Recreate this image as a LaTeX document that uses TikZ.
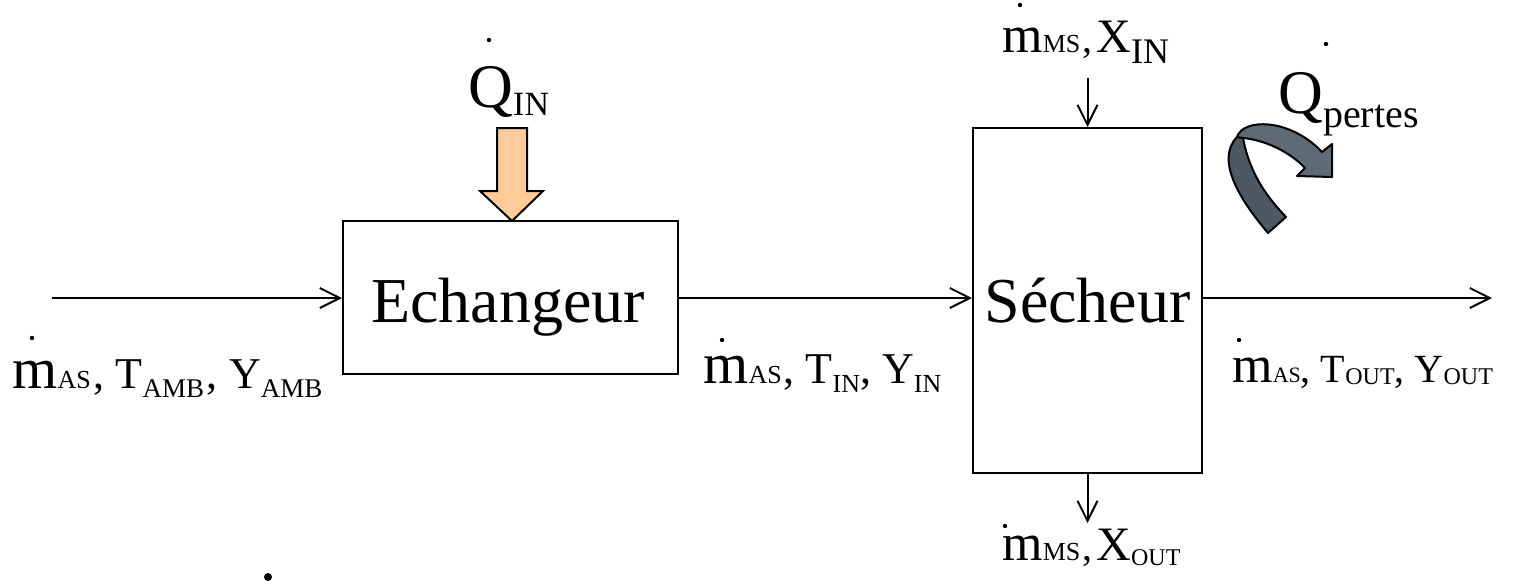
\documentclass[tikz,border=0pt]{standalone}
\usepackage{fontspec}
\setmainfont{Liberation Serif}
\usetikzlibrary{arrows.meta}
\newcommand{\fsz}[1]{\fontsize{#1}{#1}\selectfont}
\newcommand{\lowr}[3]{\raisebox{-#1pt}{\fsz{#2}#3}}
\begin{document}
\begin{tikzpicture}[x=0.5pt,y=-0.5pt,
  flow/.style={line width=1pt,-{Straight Barb[length=10pt,width=10pt,line width=1pt]}},
  unitbox/.style={draw,line width=1pt,inner sep=0pt},
  lbl/.style={inner sep=0pt,anchor=base west},
  dotmark/.style={fill=black}]
\useasboundingbox (0,0) rectangle (1522,585);
% boxes
\node[unitbox,minimum width=167.5pt,minimum height=76.5pt] (ech) at (510.5,297.5) {};
\node[unitbox,minimum width=114.5pt,minimum height=172.5pt] (sech) at (1087.5,300.5) {};
\node[inner sep=0pt,anchor=base] (echt) at (508,322) {\fsz{32}Echangeur};
\node[inner sep=0pt,anchor=base] (secht) at (1087.5,322) {\fsz{32}Sécheur};
% flow coordinates
\coordinate (in) at (52,298);
\coordinate (out) at (1492,298);
\coordinate (topin) at (1087.5,78);
\coordinate (botout) at (1087.5,523);
\draw[flow] (in) -- (in -| ech.west);
\draw[flow] (ech.east |- in) -- (sech.west |- in);
\draw[flow] (sech.east |- in) -- (out);
\draw[flow] (topin) -- (sech.north);
\draw[flow] (sech.south) -- (botout);
% heat input block arrow
\coordinate (qtip) at (512,221);
\draw[line width=1pt,fill={rgb,255:red,255;green,204;blue,153}]
  (497,128) -- (527,128) -- (527,191) -- (543,191) -- (qtip) -- (480,191) -- (497,191) -- cycle;
% losses curved arrow
\draw[line width=1pt,line join=round,fill={rgb,255:red,77;green,88;blue,98}]
  (1268,233) .. controls (1240,200) and (1215,160) .. (1237,137) -- (1243,138)
  .. controls (1250,175) and (1268,198) .. (1286,217) -- cycle;
\draw[line width=1pt,line join=round,fill={rgb,255:red,94;green,107;blue,119}]
  (1237,137) .. controls (1243,118) and (1290,118) .. (1322,152) -- (1332,144)
  -- (1332,177) -- (1297,176) -- (1305,168)
  .. controls (1290,152) and (1265,140) .. (1243,138) -- cycle;
% labels
\node[lbl] (lin) at (12,388) {\fsz{29}m\fsz{13}AS\fsz{22}\hspace{1.5pt}, T\lowr{4.5}{13.5}{AMB}\fsz{22}\hspace{1pt}, \hspace{0.5pt}Y\lowr{4.5}{13.5}{AMB}};
\node[lbl] (lmid) at (703,383) {\fsz{29}m\fsz{13}AS\fsz{22}\hspace{1pt}, T\lowr{4.5}{13}{IN}\fsz{22}, Y\lowr{4.5}{13}{IN}};
\node[lbl] (lout) at (1232,382) {\fsz{26}m\fsz{11}AS\fsz{20}, T\lowr{1}{12}{OUT}\fsz{20}, Y\lowr{1}{12}{OUT}};
\node[lbl] (ltop) at (1002,52) {\fsz{26}m\fsz{13}MS\fsz{20}\hspace{1pt},\hspace{2pt}\fsz{24}X\lowr{5.5}{18}{IN}};
\node[lbl] (lbot) at (1002,560) {\fsz{26}m\fsz{13}MS\fsz{20}\hspace{1pt},\hspace{2pt}\fsz{24}X\lowr{2.5}{12}{OUT}};
\node[lbl] (lqin) at (468,107) {\fsz{31}Q\lowr{4}{17}{IN}};
\node[lbl] (lqp) at (1278,113) {\fsz{31}Q\lowr{7}{20}{pertes}};
% dots over the flow symbols
\fill[dotmark] (32,338) circle (2.2);
\fill[dotmark] (722,340) circle (2.2);
\fill[dotmark] (1239,340) circle (2.2);
\fill[dotmark] (1020,5) circle (2.2);
\fill[dotmark] (1005,526) circle (2.2);
\fill[dotmark] (489,40) circle (2.2);
\fill[dotmark] (1326,44) circle (2.2);
\fill[dotmark] (268,577) circle (4);
\end{tikzpicture}
\end{document}
